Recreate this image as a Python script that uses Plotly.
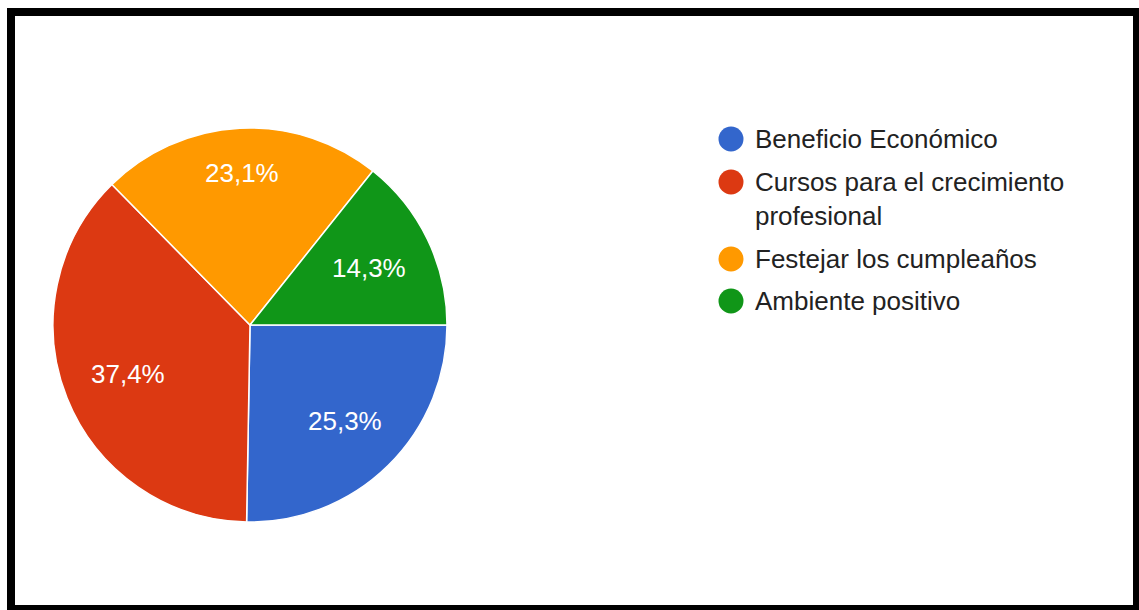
import math
import plotly.graph_objects as go

# Survey answers and their shares (%)
categories = [
    "Beneficio Económico",
    "Cursos para el crecimiento profesional",
    "Festejar los cumpleaños",
    "Ambiente positivo",
]
legend_labels = [
    "Beneficio Económico",
    "Cursos para el crecimiento<br>profesional",
    "Festejar los cumpleaños",
    "Ambiente positivo",
]
shares = [25.3, 37.4, 23.1, 14.3]
colors = ["#3366CC", "#DC3912", "#FF9900", "#109618"]

W, H = 1139, 610
FONT = "Liberation Sans, Arial, sans-serif"

# pie geometry in pixels
CX, CY, R = 250, 325, 197
START = 90  # first slice begins at 3 o'clock, going clockwise


def px(x):
    return x / W


def py(y):
    return 1 - y / H


fig = go.Figure()
fig.add_trace(
    go.Pie(
        labels=categories,
        values=shares,
        sort=False,
        direction="clockwise",
        rotation=START,
        marker=dict(colors=colors, line=dict(color="white", width=1.5)),
        textinfo="none",
        domain=dict(x=[px(CX - R), px(CX + R)], y=[py(CY + R), py(CY - R)]),
        showlegend=False,
        hoverinfo="label+percent",
    )
)

shapes = []
annotations = []

# Slice labels: the outer corner of each label box sits at a fixed radius
# along the slice's middle direction.
total = sum(shares)
acc = 0.0
half_w, half_h = 37, 13
rho = 0.868 * R
for v in shares:
    mid = math.radians(START + (acc + v / 2) / total * 360)
    acc += v
    dx, dy = math.sin(mid), -math.cos(mid)
    cx = math.copysign(half_w, dx)
    cy = math.copysign(half_h, dy)
    dc = dx * cx + dy * cy
    t = -dc + math.sqrt(dc * dc + rho * rho - (cx * cx + cy * cy))
    annotations.append(
        dict(
            text=f"{v:.1f}%".replace(".", ","),
            xref="paper", yref="paper",
            x=px(CX + t * dx), y=py(CY + t * dy),
            xanchor="center", yanchor="middle", showarrow=False,
            font=dict(family=FONT, size=26, color="white"),
        )
    )

# Legend: coloured dots with labels beside them
rows = [139, 199, 259, 301]
dot_rows = [139, 182, 259, 301]
r = 12.5
for lab, col, ty, dy in zip(legend_labels, colors, rows, dot_rows):
    shapes.append(
        dict(
            type="circle", xref="paper", yref="paper",
            x0=px(731 - r), x1=px(731 + r), y0=py(dy + r), y1=py(dy - r),
            fillcolor=col, line=dict(width=0),
        )
    )
    annotations.append(
        dict(
            text=lab, xref="paper", yref="paper", x=px(753), y=py(ty),
            xanchor="left", yanchor="middle", align="left", showarrow=False,
            font=dict(family=FONT, size=26, color="#222222"),
        )
    )

# Black frame around the chart
frame = [
    (7, 8, 1139, 16),      # top
    (7, 8, 15, 610),       # left
    (1133, 8, 1139, 610),  # right
    (7, 605, 1139, 610),   # bottom
]
for x0, y0, x1, y1 in frame:
    shapes.append(
        dict(
            type="rect", xref="paper", yref="paper",
            x0=px(x0), x1=px(x1), y0=py(y1), y1=py(y0),
            fillcolor="black", line=dict(width=0), layer="above",
        )
    )

fig.update_layout(
    width=W,
    height=H,
    margin=dict(l=0, r=0, t=0, b=0),
    paper_bgcolor="white",
    plot_bgcolor="white",
    shapes=shapes,
    annotations=annotations,
    font=dict(family=FONT),
)

fig.write_html("out.html")
